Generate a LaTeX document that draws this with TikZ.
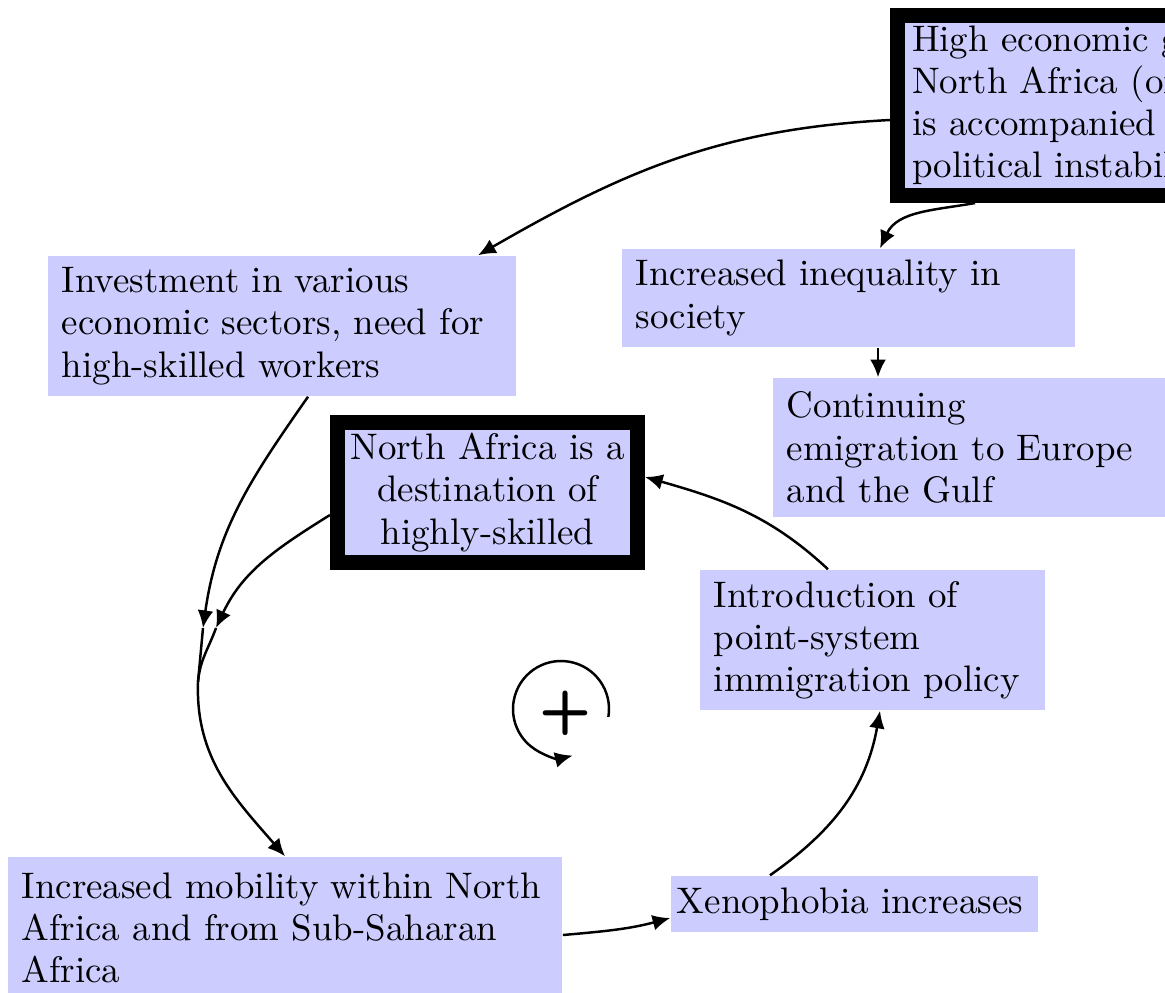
\documentclass[tikz,border=0pt]{standalone}
\usetikzlibrary{arrows.meta}

\begin{document}
\begin{tikzpicture}[x=0.01cm, y=-0.01cm,
    factor/.style={fill=blue!20, inner xsep=0.14cm, inner ysep=0pt, align=left, font=\fontsize{10.5}{12}\selectfont},
    keyfactor/.style={factor, draw=black, line width=0.15cm},
    link/.style={-{Latex[length=5pt,width=4.5pt]}, line width=0.7pt},
    plainlink/.style={line width=0.7pt}]

        \useasboundingbox (0,0) rectangle (1165,992);

        % key factors (thick frame)
        \node[keyfactor, inner xsep=0.145cm, text width=5.2cm, minimum height=1.80cm, anchor=west] (growth) at (890,105.5) {High economic growth in\\North Africa (oil exports)\\is accompanied by\\political instability};
        \node[keyfactor, align=center, inner xsep=0.08cm, text width=2.84cm, minimum height=1.40cm] (dest) at (487.5,492.5) {North Africa is a\\destination of\\highly-skilled};

        % other factors
        \node[factor, text width=4.40cm, minimum height=1.40cm] (invest) at (282,326) {Investment in various\\economic sectors, need for\\high-skilled workers};
        \node[factor, text width=4.25cm, minimum height=0.98cm] (inequal) at (848.5,298) {Increased inequality in\\society};
        \node[factor, text width=4.22cm, minimum height=1.39cm] (emig) at (998,447.5) {Continuing\\emigration to Europe\\and the Gulf};
        \node[factor, text width=3.17cm, minimum height=1.40cm] (points) at (872.5,640) {Introduction of\\point-system\\immigration policy};
        \node[factor, inner xsep=0.06cm, text width=3.55cm, minimum height=0.56cm] (xeno) at (854.5,904) {Xenophobia increases};
        \node[factor, text width=5.26cm, minimum height=1.42cm] (mobil) at (285,928) {Increased mobility within North\\Africa and from Sub-Saharan\\Africa};

        % reinforcing loop sign
        \coordinate (loopc) at (561,709);
        \node[font=\LARGE\sffamily\bfseries] (loop) at (565,713) {+};
        \draw[link] ([shift={(9.5:48)}]loopc) arc[start angle=9.5, end angle=-284, radius=48];

        % where the two arrows meet
        \coordinate (tipA) at (203,628);
        \coordinate (tipB) at (216,628);
        \coordinate (join) at (198,682);

        \draw[link] ([yshift=-0.145cm]growth.west) to[out=183,in=30] ([xshift=1.96cm]invest.north);
        \draw[link] ([xshift=0.85cm]growth.south west) to[out=190,in=65] ([xshift=0.315cm]inequal.north);
        \draw[link] ([xshift=0.295cm]inequal.south) -- ([xshift=0.295cm]inequal.south |- emig.north);

        \draw[link] ([xshift=0.26cm]invest.south) to[out=-125,in=82] (tipA);
        \draw[plainlink] (tipA) -- (join);
        \draw[link] ([yshift=-0.225cm]dest.west) to[out=-148,in=65] (tipB);
        \draw[plainlink] (tipB) to[out=-110,in=85] (join);
        \draw[link] (join) to[out=-92,in=131] (mobil.north);

        \draw[link] ([yshift=-0.07cm]mobil.east) to[out=5,in=195] ([yshift=-0.14cm]xeno.west);
        \draw[link] ([xshift=-0.845cm]xeno.north) to[out=35,in=-100] ([xshift=0.075cm]points.south);
        \draw[link] ([xshift=-0.445cm]points.north) to[out=137,in=-16] ([yshift=0.155cm]dest.east);

    \end{tikzpicture}
\end{document}
